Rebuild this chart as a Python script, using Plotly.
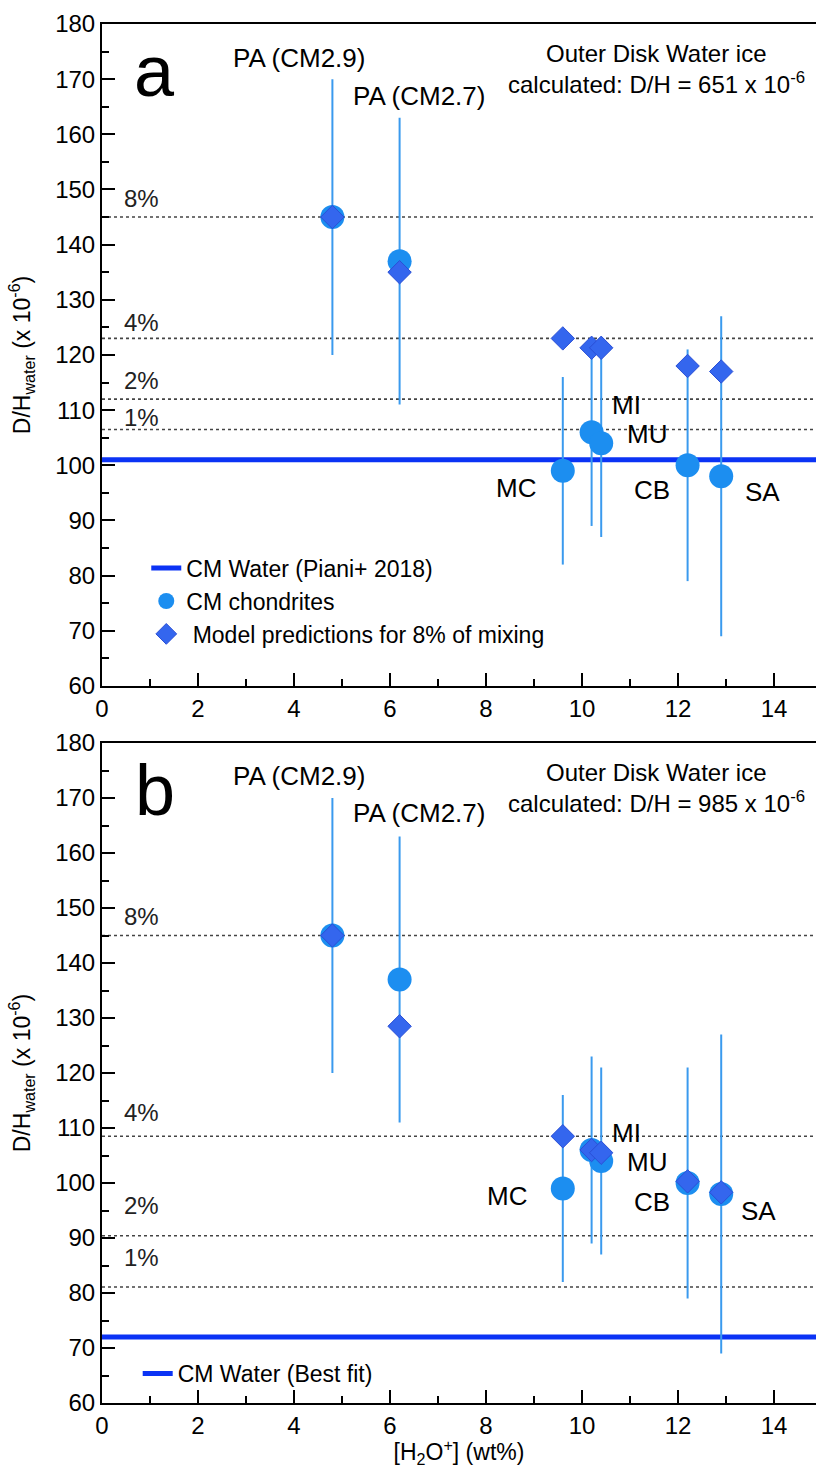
import plotly.graph_objects as go

# ---------------- data ----------------
samples = ["PA (CM2.9)", "PA (CM2.7)", "MC", "MI", "MU", "CB", "SA"]
h2o_wt = [4.8, 6.2, 9.6, 10.2, 10.4, 12.2, 12.9]
dh_water = [145, 137, 99, 106, 104, 100, 98]
dh_upper = [170, 163, 116, 123, 121, 121, 127]
dh_lower = [120, 111, 82, 89, 87, 79, 69]

model_a = [145, 135, 123, 121.3, 121.3, 118, 117]
model_b = [145, 128.5, 108.5, 106, 105.5, 100.3, 98.3]

mix_labels = ["8%", "4%", "2%", "1%"]
mix_a = [145, 123, 112, 106.5]
mix_b = [145, 108.5, 90.4, 81.1]

cm_water_a = 101
cm_water_b = 72
ice_dh_a = 651
ice_dh_b = 985

x_ticks = [0, 2, 4, 6, 8, 10, 12, 14]
y_ticks = [60, 70, 80, 90, 100, 110, 120, 130, 140, 150, 160, 170, 180]

# ---------------- styles ----------------
FONT = "Liberation Sans, Arial, Helvetica, sans-serif"
C_CIRCLE = "#1C8EF0"
C_ERR = "#3A9AEE"
C_DIAM = "#3466EE"
C_LINE = "#0B33F5"
C_DOT = "#444444"
XR = [0, 14.875]

err_plus = [u - v for u, v in zip(dh_upper, dh_water)]
err_minus = [v - l for v, l in zip(dh_water, dh_lower)]

fig = go.Figure()

panels = [
    dict(xa="x", ya="y", model=model_a, mix=mix_a, water=cm_water_a, ice=ice_dh_a,
         letter="a", wname="CM Water (Piani+ 2018)", legend="legend", showall=True,
         mixlab_y=[148.4, 125.9, 115.3, 108.6],
         lab=[(4.1, 173.8, "center"), (6.6, 167.0, "center"), (8.17, 95.8, "left"),
              (10.58, 110.9, "left"), (10.9, 105.6, "left"), (11.04, 95.5, "left"),
              (13.35, 95.2, "left")]),
    dict(xa="x2", ya="y2", model=model_b, mix=mix_b, water=cm_water_b, ice=ice_dh_b,
         letter="b", wname="CM Water (Best fit)", legend="legend2", showall=False,
         mixlab_y=[148.5, 112.9, 96.0, 86.4],
         lab=[(4.1, 174.0, "center"), (6.6, 167.3, "center"), (7.98, 97.6, "left"),
              (10.58, 109.1, "left"), (10.9, 103.9, "left"), (11.04, 96.6, "left"),
              (13.27, 94.9, "left")]),
]

for p in panels:
    # dotted mixing lines
    for v in p["mix"]:
        fig.add_trace(go.Scatter(x=XR, y=[v, v], mode="lines", xaxis=p["xa"], yaxis=p["ya"],
                                 line=dict(color=C_DOT, width=1.6, dash="dot"),
                                 showlegend=False, hoverinfo="skip"))
    # CM water line
    fig.add_trace(go.Scatter(x=XR, y=[p["water"], p["water"]], mode="lines",
                             xaxis=p["xa"], yaxis=p["ya"], name=p["wname"],
                             line=dict(color=C_LINE, width=5), legend=p["legend"],
                             legendrank=1, showlegend=True))
    # CM chondrites
    fig.add_trace(go.Scatter(x=h2o_wt, y=dh_water, mode="markers", xaxis=p["xa"], yaxis=p["ya"],
                             name="CM chondrites", legend=p["legend"], legendrank=2,
                             showlegend=p["showall"],
                             marker=dict(symbol="circle", size=24, color=C_CIRCLE),
                             error_y=dict(type="data", symmetric=False, array=err_plus,
                                          arrayminus=err_minus, width=0, thickness=2,
                                          color=C_ERR)))
    # model predictions
    fig.add_trace(go.Scatter(x=h2o_wt, y=p["model"], mode="markers", xaxis=p["xa"], yaxis=p["ya"],
                             name=" Model predictions for 8% of mixing", legend=p["legend"],
                             legendrank=3, showlegend=p["showall"],
                             marker=dict(symbol="diamond", size=18, color=C_DIAM,
                                         line=dict(color="#2A4FD6", width=1))))
    # sample labels
    for s, (lx, ly, anc) in zip(samples, p["lab"]):
        fig.add_annotation(x=lx, y=ly, xref=p["xa"], yref=p["ya"], text=s, showarrow=False,
                           xanchor=anc, yanchor="middle", font=dict(size=26, color="black"))
    # mixing % labels
    for t, ly in zip(mix_labels, p["mixlab_y"]):
        fig.add_annotation(x=0.42, y=ly, xref=p["xa"], yref=p["ya"], text=t, showarrow=False,
                           xanchor="left", yanchor="middle", font=dict(size=24, color="#222"))
    # panel letter
    fig.add_annotation(x=1.1, y=171.5, xref=p["xa"], yref=p["ya"], text=p["letter"],
                       showarrow=False, xanchor="center", yanchor="middle",
                       font=dict(size=72, color="black"))
    # outer disk text
    fig.add_annotation(x=11.56, y=174.6, xref=p["xa"], yref=p["ya"], text="Outer Disk Water ice",
                       showarrow=False, xanchor="center", yanchor="middle",
                       font=dict(size=24, color="black"))
    fig.add_annotation(x=11.56, y=169.3, xref=p["xa"], yref=p["ya"],
                       text="calculated: D/H = %d x 10<sup>-6</sup>" % p["ice"],
                       showarrow=False, xanchor="center", yanchor="middle",
                       font=dict(size=24, color="black"))

axis_common = dict(showline=True, linecolor="black", linewidth=2, ticks="inside",
                   ticklen=13, tickwidth=2, tickcolor="black", showgrid=False, zeroline=False,
                   tickfont=dict(size=24, color="black"), automargin=False)

xa = dict(axis_common, range=XR, tickvals=x_ticks, mirror=True,
          minor=dict(ticks="inside", ticklen=7, tickwidth=2, tickcolor="black", dtick=1,
                     tick0=0, showgrid=False))
ya = dict(axis_common, range=[60, 180], tickvals=y_ticks,
          minor=dict(ticks="inside", ticklen=7, tickwidth=2, tickcolor="black", dtick=5,
                     tick0=0, showgrid=False),
          title=dict(text="D/H<sub>water</sub> (x 10<sup>-6</sup>)", font=dict(size=23),
                     standoff=18))

fig.update_layout(
    width=816, height=1468,
    margin=dict(l=102, r=0, t=24, b=65),
    paper_bgcolor="white", plot_bgcolor="white",
    font=dict(family=FONT, color="black"),
    xaxis=dict(xa, domain=[0, 1], anchor="y"),
    yaxis=dict(ya, domain=[0.52, 1.0], anchor="x"),
    xaxis2=dict(xa, domain=[0, 1], anchor="y2",
                title=dict(text="[H<sub>2</sub>O<sup>+</sup>] (wt%)", font=dict(size=23),
                           standoff=14)),
    yaxis2=dict(ya, domain=[0.0, 0.4786], anchor="x2"),
    legend=dict(x=0.062, y=0.621, xanchor="left", yanchor="top", bgcolor="rgba(0,0,0,0)",
                font=dict(size=23), tracegroupgap=0, itemwidth=30),
    legend2=dict(x=0.05, y=0.037, xanchor="left", yanchor="top", bgcolor="rgba(0,0,0,0)",
                 font=dict(size=23), tracegroupgap=0, itemwidth=30),
    showlegend=True,
)

fig.write_html("out.html", config={"displayModeBar": False},
               post_script="document.body.style.margin='0px';")
